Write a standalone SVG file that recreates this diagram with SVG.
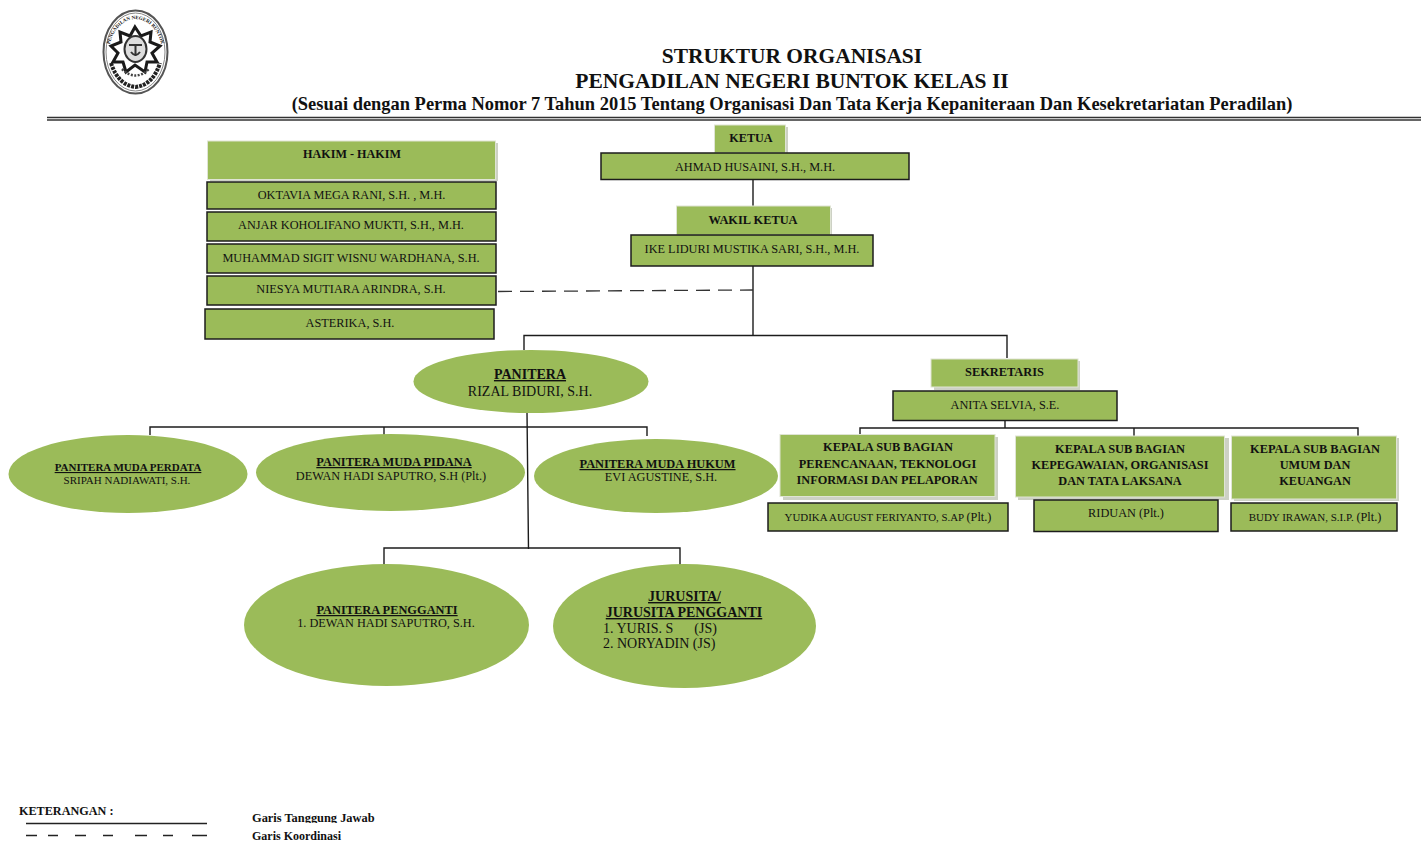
<svg xmlns="http://www.w3.org/2000/svg" width="1427" height="845" viewBox="0 0 1427 845">
<style>
text{font-family:"Liberation Serif","Times New Roman",serif;fill:#111;text-anchor:middle}
.b{font-weight:bold}
.u{text-decoration:underline;font-weight:bold}
.hd{fill:#9bbb59;stroke:#dfe4d4;stroke-width:1}
.sh{fill:#cdd1c5}
.bx{fill:#9bbb59;stroke:#1c1c1c;stroke-width:1.5}
.el{fill:#9bbb59}
.ln{fill:none;stroke:#1c1c1c;stroke-width:1.4}
.da{fill:none;stroke:#333;stroke-width:1.3;stroke-dasharray:14 8}
.t12{font-size:12.300px}.t13{font-size:12.400px}.t14{font-size:14px}.t11{font-size:11px}
.l{text-anchor:start}
</style>
<rect width="1427" height="845" fill="#fff"/>
<g id="logo">
<ellipse cx="135.500" cy="52" rx="32" ry="41.500" fill="#fff" stroke="#555" stroke-width="2"/>
<ellipse cx="135.500" cy="52" rx="29.500" ry="39" fill="none" stroke="#888" stroke-width="1"/>
<path id="logoArc" d="M109 62A27 36 0 1 1 162 62" fill="none"/>
<text font-size="5" class="b" fill="#333"><textPath href="#logoArc" startOffset="50%">PENGADILAN NEGERI BUNTOK</textPath></text>
<polygon points="135,27 141,36 151,32 150,42 160,46 152,53 157,62 147,62 145,72 135,65 126,72 123,62 113,62 118,53 111,46 121,42 120,32 130,36" fill="#fff" stroke="#1a1a1a" stroke-width="3"/>
<ellipse cx="135.500" cy="49" rx="11" ry="13" fill="#ddd" stroke="#333" stroke-width="2"/>
<path d="M129 45h13M135.500 45v11M131 52q4.500 6 9 0" stroke="#333" stroke-width="2" fill="none"/>
<path d="M111 63Q118 85 135.500 87Q153 85 160 63" fill="none" stroke="#222" stroke-width="4" stroke-dasharray="3 1"/>
<path d="M122 69Q135.500 82 149 69" fill="none" stroke="#444" stroke-width="2.500" stroke-dasharray="2 1.500"/>
</g>
<g id="title">
<text x="792" y="63" class="b" font-size="21.450">STRUKTUR ORGANISASI</text>
<text x="792" y="88" class="b" font-size="21.500">PENGADILAN NEGERI BUNTOK KELAS II</text>
<text x="792" y="110" class="b" font-size="18.460">(Sesuai dengan Perma Nomor 7 Tahun 2015 Tentang Organisasi Dan Tata Kerja Kepaniteraan Dan Kesekretariatan Peradilan)</text>
<path d="M47 117.500H1421" stroke="#333" stroke-width="1.500"/>
<path d="M47 120H1421" stroke="#333" stroke-width="1.500"/>
</g>
<g id="connectors">
<path class="ln" d="M753 180V206M753 266V335M524 350V335.500H1007V358"/>
<path class="da" d="M498 291.500L753 290"/>
<path class="ln" d="M527 412L528.500 549M150 435V427H647V436M384 427V437"/>
<path class="ln" d="M384 565V548H680V566"/>
<path class="ln" d="M1005 420V428M860 434V428H1358V436M1134 428V436"/>
</g>
<g id="hakim-header"><rect class="sh" x="210" y="143" width="288" height="38"/><rect class="hd" x="207.500" y="141" width="288" height="38.500"/><text x="352" y="158" class="b" font-size="12.150">HAKIM - HAKIM</text></g>
<g id="hakim-1"><rect class="bx" x="207" y="182" width="289" height="27"/><text x="351.500" y="199" class="t12">OKTAVIA MEGA RANI, S.H. , M.H.</text></g>
<g id="hakim-2"><rect class="bx" x="207" y="212" width="289" height="29"/><text x="351" y="229" class="t12">ANJAR KOHOLIFANO MUKTI, S.H., M.H.</text></g>
<g id="hakim-3"><rect class="bx" x="207" y="244" width="289" height="29"/><text x="351" y="262" class="t12">MUHAMMAD SIGIT WISNU WARDHANA, S.H.</text></g>
<g id="hakim-4"><rect class="bx" x="207" y="276" width="289" height="29"/><text x="351" y="293" class="t12">NIESYA MUTIARA ARINDRA, S.H.</text></g>
<g id="hakim-5"><rect class="bx" x="205" y="309" width="289" height="30"/><text x="350" y="327" class="t12">ASTERIKA, S.H.</text></g>
<g id="ketua"><rect class="sh" x="717" y="127" width="71" height="27"/><rect class="hd" x="714.500" y="125" width="71" height="28"/><text x="751" y="142" class="b" font-size="12.200">KETUA</text></g>
<g id="ketua-nama"><rect class="bx" x="601" y="153" width="308" height="26.500"/><text x="755" y="171" class="t12">AHMAD HUSAINI, S.H., M.H.</text></g>
<g id="wakil"><rect class="sh" x="679" y="208" width="153" height="27"/><rect class="hd" x="676.500" y="206" width="154" height="29"/><text x="753" y="224" class="b t13">WAKIL KETUA</text></g>
<g id="wakil-nama"><rect class="bx" x="631" y="235" width="242" height="31"/><text x="752" y="253" class="t12">IKE LIDURI MUSTIKA SARI, S.H., M.H.</text></g>
<g id="panitera"><ellipse class="el" cx="531" cy="381.500" rx="117.500" ry="31.500"/><text x="530" y="379" class="u" font-size="14">PANITERA</text><text x="530" y="396" font-size="14">RIZAL BIDURI, S.H.</text></g>
<g id="sekretaris"><rect class="sh" x="934" y="361" width="146" height="29"/><rect class="hd" x="931" y="359" width="147" height="28"/><text x="1004.500" y="376" class="b t13">SEKRETARIS</text></g>
<g id="sekretaris-nama"><rect class="bx" x="893" y="391" width="224" height="29.500"/><text x="1005" y="409" class="t12">ANITA SELVIA, S.E.</text></g>
<g id="pm-perdata"><ellipse class="el" cx="128" cy="474" rx="119.500" ry="39"/><text x="128" y="471" class="u t11">PANITERA MUDA PERDATA</text><text x="127" y="484" class="t11">SRIPAH NADIAWATI, S.H.</text></g>
<g id="pm-pidana"><ellipse class="el" cx="390.500" cy="472.500" rx="134.500" ry="38.500"/><text x="394" y="466" class="u t13">PANITERA MUDA PIDANA</text><text x="391" y="480" class="t12">DEWAN HADI SAPUTRO, S.H (Plt.)</text></g>
<g id="pm-hukum"><ellipse class="el" cx="656" cy="476" rx="122" ry="37"/><text x="657.500" y="468" class="u t13">PANITERA MUDA HUKUM</text><text x="661" y="481" class="t12">EVI AGUSTINE, S.H.</text></g>
<g id="kasub-1"><rect class="sh" x="783" y="437" width="215" height="63"/><rect class="hd" x="780" y="434.500" width="215" height="62"/><text x="888" y="451" class="b t13">KEPALA SUB BAGIAN</text><text x="887.500" y="468" class="b t12">PERENCANAAN, TEKNOLOGI</text><text x="887" y="484" class="b t12">INFORMASI DAN PELAPORAN</text></g>
<g id="kasub-2"><rect class="sh" x="1018" y="438" width="211" height="62"/><rect class="hd" x="1015.500" y="436" width="209" height="61"/><text x="1120" y="453" class="b t13">KEPALA SUB BAGIAN</text><text x="1120" y="469" class="b t12">KEPEGAWAIAN, ORGANISASI</text><text x="1120" y="485" class="b t12">DAN TATA LAKSANA</text></g>
<g id="kasub-3"><rect class="sh" x="1234" y="438" width="165" height="63"/><rect class="hd" x="1231.500" y="436" width="165" height="63"/><text x="1315" y="453" class="b t13">KEPALA SUB BAGIAN</text><text x="1315" y="469" class="b t12">UMUM DAN</text><text x="1315" y="485" class="b t12">KEUANGAN</text></g>
<g id="nama-1"><rect class="bx" x="768" y="503" width="240" height="28"/><text x="888" y="521" font-size="10.900">YUDIKA AUGUST FERIYANTO, S.AP <tspan font-size="12.300">(Plt.)</tspan></text></g>
<g id="nama-2"><rect class="bx" x="1034" y="500" width="184" height="31.500"/><text x="1126" y="517" class="t12">RIDUAN (Plt.)</text></g>
<g id="nama-3"><rect class="bx" x="1231" y="503" width="166" height="28"/><text x="1315" y="521" font-size="11">BUDY IRAWAN, S.I.P. <tspan font-size="12.300">(Plt.)</tspan></text></g>
<g id="pengganti"><ellipse class="el" cx="386.500" cy="625" rx="142.500" ry="61"/><text x="387" y="614" class="u t13">PANITERA PENGGANTI</text><text x="386" y="627" class="t12">1. DEWAN HADI SAPUTRO, S.H.</text></g>
<g id="jurusita"><ellipse class="el" cx="684.500" cy="626" rx="131.500" ry="62"/><text x="684.500" y="601" class="u t14">JURUSITA/</text><text x="684" y="617" class="u t14">JURUSITA PENGGANTI</text><text x="603" y="633" class="l t14" xml:space="preserve">1. YURIS. S      (JS)</text><text x="603" y="648" class="l t14">2. NORYADIN (JS)</text></g>
<g id="legend">
<text x="19" y="815" class="l b" font-size="12.200">KETERANGAN :</text>
<path d="M26 823.500H207" stroke="#222" stroke-width="1.300"/>
<path d="M26 835.500H37M48 835.500H58M75 835.500H86M103 835.500H113M135 835.500H147M163 835.500H173M192 835.500H207" stroke="#222" stroke-width="1.300"/>
<text x="252" y="822" class="l b t13">Garis Tanggung Jawab</text>
<rect x="250" y="823" width="130" height="6" fill="#fff"/>
<text x="252" y="840" class="l b" font-size="12">Garis Koordinasi</text>
</g>
</svg>
